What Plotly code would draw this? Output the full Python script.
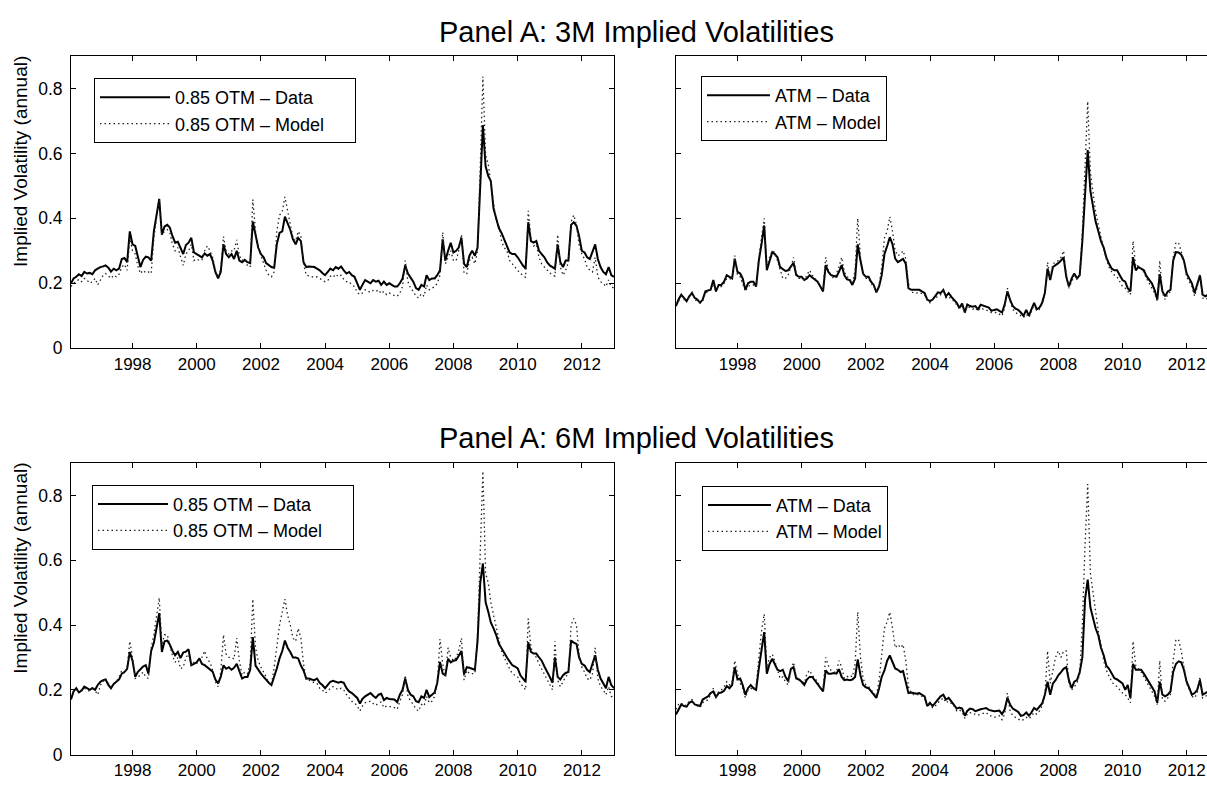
import pandas as pd
import plotly.graph_objects as go

# monthly observations, end of month, Jan 1996 .. Dec 2012
dates = pd.date_range("1996-01-31", periods=204, freq=pd.offsets.MonthEnd())
x_tick_years = [1998, 2000, 2002, 2004, 2006, 2008, 2010, 2012]
y_ticks = [0, 0.2, 0.4, 0.6, 0.8]

# Panel A, 3M, 0.85 OTM
otm3_data = [
    0.200, 0.215, 0.220, 0.228, 0.222, 0.235, 0.230, 0.232, 0.228, 0.240, 0.245, 0.250,
    0.252, 0.255, 0.248, 0.236, 0.245, 0.240, 0.245, 0.275, 0.278, 0.265, 0.360, 0.320,
    0.315, 0.280, 0.250, 0.272, 0.282, 0.280, 0.270, 0.360, 0.410, 0.460, 0.350, 0.375,
    0.380, 0.372, 0.345, 0.325, 0.328, 0.310, 0.290, 0.318, 0.325, 0.340, 0.295, 0.290,
    0.285, 0.280, 0.292, 0.285, 0.290, 0.270, 0.235, 0.215, 0.235, 0.320, 0.290, 0.280,
    0.290, 0.275, 0.300, 0.270, 0.265, 0.272, 0.265, 0.262, 0.390, 0.350, 0.310, 0.290,
    0.280, 0.262, 0.255, 0.250, 0.248, 0.320, 0.355, 0.360, 0.405, 0.385, 0.365, 0.335,
    0.320, 0.340, 0.330, 0.265, 0.250, 0.252, 0.250, 0.250, 0.245, 0.240, 0.232, 0.225,
    0.235, 0.245, 0.240, 0.250, 0.245, 0.252, 0.240, 0.230, 0.235, 0.225, 0.220, 0.200,
    0.180, 0.195, 0.210, 0.205, 0.200, 0.210, 0.205, 0.208, 0.195, 0.205, 0.195, 0.200,
    0.195, 0.190, 0.190, 0.200, 0.215, 0.255, 0.230, 0.215, 0.205, 0.185, 0.180, 0.195,
    0.190, 0.225, 0.210, 0.215, 0.215, 0.225, 0.240, 0.335, 0.270, 0.300, 0.325, 0.295,
    0.300, 0.310, 0.340, 0.260, 0.250, 0.285, 0.300, 0.285, 0.310, 0.500, 0.687, 0.560,
    0.530, 0.515, 0.430, 0.400, 0.370, 0.355, 0.335, 0.320, 0.295, 0.290, 0.290, 0.280,
    0.265, 0.255, 0.245, 0.388, 0.330, 0.325, 0.330, 0.300, 0.290, 0.280, 0.265, 0.255,
    0.250, 0.245, 0.320, 0.265, 0.250, 0.270, 0.270, 0.380, 0.388, 0.377, 0.345, 0.300,
    0.295, 0.280, 0.275, 0.300, 0.320, 0.275, 0.250, 0.235, 0.228, 0.250, 0.225, 0.220,
]
otm3_model = [
    0.190, 0.200, 0.205, 0.212, 0.205, 0.215, 0.210, 0.200, 0.205, 0.215, 0.195, 0.210,
    0.225, 0.230, 0.222, 0.215, 0.225, 0.220, 0.228, 0.250, 0.258, 0.240, 0.340, 0.300,
    0.290, 0.255, 0.230, 0.240, 0.232, 0.235, 0.230, 0.340, 0.400, 0.460, 0.350, 0.360,
    0.365, 0.355, 0.320, 0.300, 0.310, 0.280, 0.255, 0.290, 0.300, 0.320, 0.270, 0.275,
    0.270, 0.272, 0.300, 0.315, 0.300, 0.280, 0.240, 0.218, 0.245, 0.344, 0.300, 0.290,
    0.300, 0.300, 0.334, 0.285, 0.270, 0.275, 0.255, 0.250, 0.458, 0.360, 0.310, 0.285,
    0.260, 0.240, 0.225, 0.220, 0.235, 0.360, 0.410, 0.420, 0.466, 0.420, 0.380, 0.340,
    0.330, 0.360, 0.345, 0.260, 0.225, 0.222, 0.220, 0.218, 0.220, 0.215, 0.210, 0.205,
    0.208, 0.222, 0.218, 0.228, 0.220, 0.225, 0.212, 0.205, 0.205, 0.195, 0.190, 0.172,
    0.165, 0.170, 0.180, 0.175, 0.172, 0.178, 0.175, 0.180, 0.168, 0.175, 0.165, 0.170,
    0.165, 0.162, 0.160, 0.170, 0.190, 0.270, 0.205, 0.185, 0.175, 0.160, 0.155, 0.168,
    0.160, 0.195, 0.180, 0.185, 0.190, 0.200, 0.225, 0.357, 0.260, 0.280, 0.300, 0.270,
    0.270, 0.300, 0.350, 0.230, 0.230, 0.270, 0.280, 0.260, 0.300, 0.560, 0.837, 0.595,
    0.565, 0.510, 0.440, 0.390, 0.380, 0.330, 0.310, 0.300, 0.270, 0.260, 0.250, 0.240,
    0.230, 0.225, 0.218, 0.423, 0.340, 0.315, 0.320, 0.280, 0.260, 0.250, 0.240, 0.232,
    0.225, 0.222, 0.350, 0.250, 0.225, 0.240, 0.265, 0.390, 0.410, 0.380, 0.320, 0.290,
    0.275, 0.250, 0.240, 0.235, 0.280, 0.220, 0.205, 0.200, 0.190, 0.210, 0.190, 0.185,
]

# Panel A, 3M, ATM
atm3_data = [
    0.130, 0.150, 0.165, 0.155, 0.145, 0.160, 0.170, 0.155, 0.150, 0.140, 0.150, 0.175,
    0.178, 0.180, 0.210, 0.175, 0.195, 0.195, 0.205, 0.225, 0.220, 0.215, 0.276, 0.235,
    0.230, 0.215, 0.180, 0.200, 0.205, 0.205, 0.190, 0.270, 0.320, 0.378, 0.240, 0.270,
    0.296, 0.290, 0.280, 0.250, 0.245, 0.238, 0.240, 0.250, 0.263, 0.225, 0.220, 0.220,
    0.210, 0.215, 0.225, 0.218, 0.210, 0.205, 0.190, 0.175, 0.256, 0.235, 0.225, 0.222,
    0.220, 0.235, 0.256, 0.225, 0.212, 0.210, 0.195, 0.215, 0.320, 0.270, 0.230, 0.220,
    0.220, 0.205, 0.195, 0.172, 0.190, 0.225, 0.290, 0.315, 0.342, 0.320, 0.276, 0.265,
    0.270, 0.275, 0.260, 0.185, 0.180, 0.180, 0.178, 0.180, 0.175, 0.170, 0.150, 0.145,
    0.150, 0.160, 0.172, 0.170, 0.180, 0.160, 0.170, 0.158, 0.150, 0.140, 0.124, 0.138,
    0.110, 0.135, 0.130, 0.128, 0.130, 0.120, 0.134, 0.130, 0.128, 0.125, 0.115, 0.118,
    0.120, 0.115, 0.110, 0.135, 0.175, 0.150, 0.130, 0.122, 0.118, 0.110, 0.100, 0.118,
    0.100, 0.120, 0.140, 0.120, 0.125, 0.140, 0.170, 0.245, 0.210, 0.250, 0.255, 0.262,
    0.270, 0.280, 0.220, 0.190, 0.215, 0.230, 0.215, 0.225, 0.330, 0.480, 0.610, 0.484,
    0.440, 0.390, 0.360, 0.330, 0.310, 0.280, 0.260, 0.245, 0.240, 0.240, 0.225, 0.210,
    0.205, 0.185, 0.175, 0.280, 0.240, 0.250, 0.245, 0.240, 0.222, 0.210, 0.200, 0.180,
    0.150, 0.228, 0.175, 0.160, 0.175, 0.180, 0.270, 0.296, 0.295, 0.288, 0.270, 0.230,
    0.215, 0.200, 0.170, 0.195, 0.225, 0.165, 0.160, 0.165, 0.155, 0.170, 0.160, 0.155,
]
atm3_model = [
    0.135, 0.145, 0.160, 0.150, 0.150, 0.155, 0.175, 0.150, 0.145, 0.140, 0.145, 0.170,
    0.175, 0.180, 0.195, 0.180, 0.190, 0.190, 0.200, 0.215, 0.215, 0.210, 0.285, 0.225,
    0.220, 0.200, 0.175, 0.190, 0.195, 0.195, 0.190, 0.280, 0.340, 0.400, 0.250, 0.280,
    0.300, 0.295, 0.270, 0.240, 0.215, 0.215, 0.225, 0.250, 0.280, 0.230, 0.215, 0.215,
    0.210, 0.225, 0.240, 0.225, 0.215, 0.205, 0.190, 0.180, 0.280, 0.240, 0.225, 0.215,
    0.230, 0.250, 0.280, 0.235, 0.220, 0.215, 0.200, 0.240, 0.400, 0.280, 0.230, 0.215,
    0.215, 0.200, 0.190, 0.175, 0.195, 0.250, 0.340, 0.360, 0.405, 0.360, 0.300, 0.285,
    0.290, 0.300, 0.275, 0.200, 0.175, 0.170, 0.170, 0.172, 0.168, 0.165, 0.148, 0.140,
    0.150, 0.155, 0.162, 0.165, 0.178, 0.155, 0.160, 0.150, 0.145, 0.135, 0.122, 0.130,
    0.108, 0.130, 0.125, 0.120, 0.125, 0.115, 0.125, 0.120, 0.118, 0.115, 0.110, 0.110,
    0.110, 0.105, 0.100, 0.125, 0.185, 0.145, 0.120, 0.110, 0.105, 0.100, 0.095, 0.105,
    0.095, 0.112, 0.135, 0.115, 0.120, 0.135, 0.165, 0.265, 0.215, 0.260, 0.265, 0.270,
    0.280, 0.300, 0.230, 0.185, 0.205, 0.225, 0.215, 0.225, 0.360, 0.580, 0.760, 0.540,
    0.480, 0.420, 0.380, 0.340, 0.305, 0.275, 0.250, 0.235, 0.225, 0.220, 0.205, 0.190,
    0.185, 0.175, 0.165, 0.330, 0.250, 0.255, 0.245, 0.235, 0.215, 0.200, 0.185, 0.170,
    0.145, 0.270, 0.170, 0.150, 0.165, 0.175, 0.280, 0.325, 0.325, 0.300, 0.270, 0.220,
    0.205, 0.190, 0.160, 0.190, 0.230, 0.155, 0.150, 0.155, 0.150, 0.160, 0.150, 0.145,
]

# Panel A, 6M, 0.85 OTM
otm6_data = [
    0.170, 0.195, 0.205, 0.192, 0.198, 0.210, 0.205, 0.200, 0.205, 0.200, 0.215, 0.225,
    0.230, 0.232, 0.215, 0.205, 0.218, 0.225, 0.232, 0.250, 0.255, 0.265, 0.317, 0.290,
    0.240, 0.255, 0.265, 0.272, 0.276, 0.250, 0.320, 0.345, 0.390, 0.437, 0.317, 0.350,
    0.352, 0.340, 0.320, 0.307, 0.317, 0.298, 0.315, 0.318, 0.325, 0.276, 0.280, 0.285,
    0.297, 0.280, 0.276, 0.270, 0.262, 0.256, 0.232, 0.220, 0.240, 0.276, 0.265, 0.270,
    0.262, 0.268, 0.280, 0.255, 0.235, 0.240, 0.240, 0.262, 0.363, 0.275, 0.262, 0.250,
    0.240, 0.230, 0.222, 0.215, 0.240, 0.266, 0.297, 0.320, 0.352, 0.330, 0.317, 0.300,
    0.300, 0.297, 0.275, 0.260, 0.235, 0.235, 0.232, 0.230, 0.235, 0.222, 0.215, 0.205,
    0.215, 0.225, 0.228, 0.225, 0.222, 0.225, 0.222, 0.205, 0.195, 0.190, 0.182, 0.175,
    0.158, 0.172, 0.180, 0.185, 0.190, 0.182, 0.175, 0.185, 0.188, 0.168, 0.175, 0.172,
    0.172, 0.170, 0.162, 0.185, 0.200, 0.235, 0.200, 0.185, 0.180, 0.165, 0.162, 0.180,
    0.175, 0.200, 0.178, 0.185, 0.192, 0.222, 0.286, 0.250, 0.245, 0.296, 0.285, 0.290,
    0.292, 0.305, 0.320, 0.248, 0.270, 0.268, 0.265, 0.262, 0.350, 0.530, 0.590, 0.470,
    0.440, 0.408, 0.390, 0.370, 0.342, 0.328, 0.310, 0.300, 0.288, 0.276, 0.272, 0.266,
    0.245, 0.235, 0.225, 0.347, 0.317, 0.312, 0.312, 0.300, 0.290, 0.272, 0.258, 0.240,
    0.222, 0.300, 0.240, 0.232, 0.245, 0.252, 0.255, 0.352, 0.346, 0.342, 0.300, 0.280,
    0.275, 0.262, 0.255, 0.280, 0.307, 0.262, 0.235, 0.220, 0.205, 0.240, 0.215, 0.205,
]
otm6_model = [
    0.180, 0.195, 0.200, 0.195, 0.200, 0.205, 0.200, 0.195, 0.210, 0.195, 0.185, 0.215,
    0.225, 0.235, 0.220, 0.210, 0.215, 0.225, 0.240, 0.260, 0.250, 0.270, 0.350, 0.300,
    0.235, 0.240, 0.245, 0.255, 0.240, 0.235, 0.330, 0.370, 0.420, 0.484, 0.340, 0.370,
    0.370, 0.340, 0.305, 0.285, 0.300, 0.265, 0.270, 0.300, 0.310, 0.275, 0.285, 0.280,
    0.300, 0.300, 0.320, 0.295, 0.285, 0.260, 0.225, 0.210, 0.255, 0.370, 0.310, 0.300,
    0.300, 0.295, 0.360, 0.290, 0.245, 0.255, 0.250, 0.280, 0.480, 0.330, 0.290, 0.270,
    0.255, 0.240, 0.220, 0.215, 0.270, 0.330, 0.400, 0.440, 0.480, 0.430, 0.400, 0.360,
    0.350, 0.390, 0.360, 0.280, 0.230, 0.230, 0.225, 0.222, 0.220, 0.205, 0.200, 0.190,
    0.195, 0.205, 0.210, 0.205, 0.200, 0.205, 0.200, 0.185, 0.175, 0.165, 0.160, 0.150,
    0.135, 0.150, 0.160, 0.162, 0.165, 0.158, 0.152, 0.160, 0.162, 0.145, 0.150, 0.148,
    0.148, 0.145, 0.140, 0.165, 0.185, 0.245, 0.180, 0.165, 0.155, 0.140, 0.135, 0.155,
    0.150, 0.180, 0.160, 0.165, 0.180, 0.220, 0.357, 0.280, 0.240, 0.330, 0.300, 0.290,
    0.300, 0.320, 0.360, 0.230, 0.260, 0.250, 0.250, 0.250, 0.370, 0.640, 0.875, 0.560,
    0.530, 0.470, 0.430, 0.400, 0.350, 0.320, 0.300, 0.280, 0.265, 0.250, 0.245, 0.240,
    0.220, 0.210, 0.200, 0.420, 0.330, 0.310, 0.300, 0.280, 0.265, 0.250, 0.235, 0.220,
    0.200, 0.350, 0.230, 0.210, 0.225, 0.240, 0.250, 0.400, 0.420, 0.400, 0.310, 0.270,
    0.255, 0.235, 0.230, 0.250, 0.330, 0.235, 0.210, 0.200, 0.185, 0.210, 0.180, 0.175,
]

# Panel A, 6M, ATM
atm6_data = [
    0.124, 0.140, 0.155, 0.150, 0.148, 0.160, 0.165, 0.155, 0.152, 0.150, 0.170, 0.175,
    0.180, 0.190, 0.195, 0.178, 0.190, 0.192, 0.197, 0.212, 0.205, 0.215, 0.270, 0.232,
    0.235, 0.215, 0.185, 0.205, 0.215, 0.205, 0.200, 0.266, 0.320, 0.378, 0.250, 0.280,
    0.296, 0.280, 0.262, 0.258, 0.262, 0.240, 0.227, 0.265, 0.270, 0.235, 0.232, 0.225,
    0.215, 0.232, 0.240, 0.240, 0.228, 0.218, 0.205, 0.195, 0.260, 0.250, 0.250, 0.252,
    0.250, 0.264, 0.240, 0.230, 0.232, 0.230, 0.232, 0.240, 0.294, 0.245, 0.215, 0.208,
    0.205, 0.195, 0.185, 0.175, 0.205, 0.240, 0.260, 0.290, 0.306, 0.285, 0.266, 0.262,
    0.255, 0.258, 0.225, 0.190, 0.192, 0.190, 0.188, 0.190, 0.185, 0.180, 0.150, 0.160,
    0.150, 0.160, 0.172, 0.180, 0.185, 0.170, 0.175, 0.165, 0.155, 0.142, 0.145, 0.142,
    0.120, 0.135, 0.142, 0.140, 0.134, 0.138, 0.140, 0.142, 0.144, 0.138, 0.135, 0.134,
    0.135, 0.136, 0.125, 0.140, 0.175, 0.155, 0.142, 0.136, 0.132, 0.120, 0.122, 0.130,
    0.120, 0.130, 0.144, 0.138, 0.148, 0.158, 0.185, 0.225, 0.185, 0.220, 0.230, 0.245,
    0.255, 0.265, 0.270, 0.230, 0.205, 0.225, 0.230, 0.255, 0.300, 0.480, 0.540, 0.454,
    0.420, 0.390, 0.368, 0.330, 0.307, 0.275, 0.265, 0.250, 0.236, 0.232, 0.225, 0.220,
    0.200, 0.215, 0.175, 0.280, 0.262, 0.262, 0.262, 0.250, 0.236, 0.222, 0.205, 0.195,
    0.160, 0.225, 0.185, 0.180, 0.185, 0.195, 0.255, 0.280, 0.288, 0.285, 0.262, 0.225,
    0.205, 0.185, 0.190, 0.200, 0.230, 0.185, 0.190, 0.195, 0.185, 0.200, 0.190, 0.185,
]
atm6_model = [
    0.140, 0.155, 0.160, 0.150, 0.155, 0.165, 0.170, 0.155, 0.150, 0.145, 0.160, 0.165,
    0.170, 0.185, 0.205, 0.180, 0.195, 0.200, 0.210, 0.225, 0.215, 0.225, 0.290, 0.250,
    0.220, 0.205, 0.175, 0.200, 0.205, 0.200, 0.210, 0.300, 0.380, 0.434, 0.270, 0.300,
    0.310, 0.290, 0.260, 0.235, 0.240, 0.225, 0.215, 0.260, 0.285, 0.240, 0.230, 0.230,
    0.220, 0.250, 0.260, 0.245, 0.235, 0.225, 0.205, 0.200, 0.300, 0.275, 0.260, 0.255,
    0.255, 0.290, 0.270, 0.235, 0.240, 0.245, 0.240, 0.280, 0.440, 0.300, 0.235, 0.215,
    0.210, 0.200, 0.190, 0.180, 0.230, 0.300, 0.390, 0.410, 0.440, 0.390, 0.330, 0.340,
    0.330, 0.340, 0.290, 0.210, 0.190, 0.185, 0.185, 0.185, 0.180, 0.172, 0.150, 0.155,
    0.145, 0.150, 0.160, 0.168, 0.175, 0.160, 0.165, 0.158, 0.150, 0.135, 0.138, 0.132,
    0.112, 0.125, 0.130, 0.125, 0.125, 0.122, 0.125, 0.128, 0.130, 0.122, 0.118, 0.115,
    0.118, 0.120, 0.108, 0.125, 0.190, 0.135, 0.120, 0.115, 0.110, 0.105, 0.108, 0.115,
    0.110, 0.118, 0.130, 0.125, 0.135, 0.150, 0.180, 0.320, 0.220, 0.260, 0.300, 0.320,
    0.300, 0.320, 0.320, 0.220, 0.200, 0.210, 0.220, 0.250, 0.400, 0.650, 0.835, 0.560,
    0.500, 0.440, 0.380, 0.340, 0.290, 0.260, 0.240, 0.225, 0.215, 0.210, 0.200, 0.190,
    0.185, 0.175, 0.160, 0.350, 0.275, 0.265, 0.255, 0.240, 0.225, 0.210, 0.195, 0.180,
    0.155, 0.290, 0.170, 0.165, 0.175, 0.185, 0.290, 0.355, 0.355, 0.320, 0.270, 0.220,
    0.200, 0.180, 0.175, 0.190, 0.240, 0.175, 0.180, 0.185, 0.175, 0.190, 0.180, 0.175,
]

FONT = "Liberation Sans, Arial, Helvetica, sans-serif"
W, H = 1207, 791
PAD = "\u00a0" * 5  # matlab leaves some room on the right of the OTM legends

fig = go.Figure()

panels = [
    # (data, model, name, axis suffix, legend id, right padding)
    (otm3_data, otm3_model, "0.85 OTM", "", "legend", PAD),
    (atm3_data, atm3_model, "ATM", "2", "legend2", ""),
    (otm6_data, otm6_model, "0.85 OTM", "3", "legend3", PAD),
    (atm6_data, atm6_model, "ATM", "4", "legend4", ""),
]

for data, model, name, ax, leg, pad in panels:
    fig.add_trace(go.Scatter(
        x=dates, y=data, mode="lines", name=name + " \u2013 Data",
        line=dict(color="black", width=2),
        xaxis="x" + ax, yaxis="y" + ax, legend=leg
    ))
    fig.add_trace(go.Scatter(
        x=dates, y=model, mode="lines", name=name + " \u2013 Model" + pad,
        line=dict(color="#222222", width=1.3, dash="1.5px,3px"),
        xaxis="x" + ax, yaxis="y" + ax, legend=leg
    ))

# panel geometry in pixels (left, right, top, bottom)
left_x = [71 / W, 614 / W]
right_x = [676 / W, 1.0]
top_y = [1 - 352.7 / H, 1 - 56.7 / H]
bot_y = [1 - 764.3 / H, 1 - 469 / H]

tickvals = ["%d-01-01" % y for y in x_tick_years]
ticktext = [str(y) for y in x_tick_years]


def xaxis_style(domain, anchor, end):
    return dict(
        domain=domain, anchor=anchor, type="date",
        range=["1996-01-31", end],
        tickvals=tickvals, ticktext=ticktext,
        ticks="inside", ticklen=5, tickcolor="black",
        showline=True, linecolor="black", linewidth=1, mirror="ticks",
        showgrid=False, zeroline=False, ticklabeloverflow="allow",
        tickfont=dict(family=FONT, size=17, color="black"),
    )


def yaxis_style(domain, anchor, labels, mirror):
    return dict(
        domain=domain, anchor=anchor, range=[0, 0.9],
        tickvals=y_ticks, showticklabels=labels,
        ticks="inside", ticklen=5, tickcolor="black",
        showline=True, linecolor="black", linewidth=1, mirror=mirror,
        showgrid=False, zeroline=False,
        tickfont=dict(family=FONT, size=17.5, color="black"),
        ticklabelstandoff=4,
    )


def legend_style(x, y, itemwidth):
    return dict(
        x=x, y=y, xanchor="left", yanchor="top",
        bgcolor="white", bordercolor="black", borderwidth=1,
        font=dict(family=FONT, size=18, color="black"),
        itemwidth=itemwidth, tracegroupgap=0,
    )


fig.update_layout(
    width=W, height=H,
    margin=dict(l=0, r=0, t=0, b=0),
    paper_bgcolor="white", plot_bgcolor="white",
    font=dict(family=FONT, color="black"),
    xaxis=xaxis_style(left_x, "y", "2012-12-31"),
    yaxis=yaxis_style(top_y, "x", True, "ticks"),
    xaxis2=xaxis_style(right_x, "y2", "2012-08-19"),
    yaxis2=yaxis_style(top_y, "x2", False, False),
    xaxis3=xaxis_style(left_x, "y3", "2012-12-31"),
    yaxis3=yaxis_style(bot_y, "x3", True, "ticks"),
    xaxis4=xaxis_style(right_x, "y4", "2012-08-19"),
    yaxis4=yaxis_style(bot_y, "x4", False, False),
    legend=legend_style(94 / W, 1 - 79 / H, 70),
    legend2=legend_style(701 / W, 1 - 77 / H, 63),
    legend3=legend_style(92 / W, 1 - 491 / H, 70),
    legend4=legend_style(702 / W, 1 - 492 / H, 63),
    showlegend=True,
)

# row titles and y-axis labels
for text, yc in [("Panel A: 3M Implied Volatilities", 32), ("Panel A: 6M Implied Volatilities", 444)]:
    fig.add_annotation(
        text=text, xref="paper", yref="paper", x=636 / W, y=1 - yc / H,
        xanchor="center", yanchor="middle", showarrow=False,
        font=dict(family=FONT, size=29, color="black"),
    )
for yc in [164, 576]:
    fig.add_annotation(
        text="Implied Volatility (annual)", xref="paper", yref="paper",
        x=21 / W, y=1 - yc / H, xanchor="center", yanchor="middle",
        textangle=-90, showarrow=False,
        font=dict(family=FONT, size=19, color="black"),
    )

# the page body has a default 8px margin; drop it so the figure sits at the window origin
fig.write_html(
    "out.html",
    config={"displayModeBar": False},
    post_script="document.body.style.margin = '0px';",
)
